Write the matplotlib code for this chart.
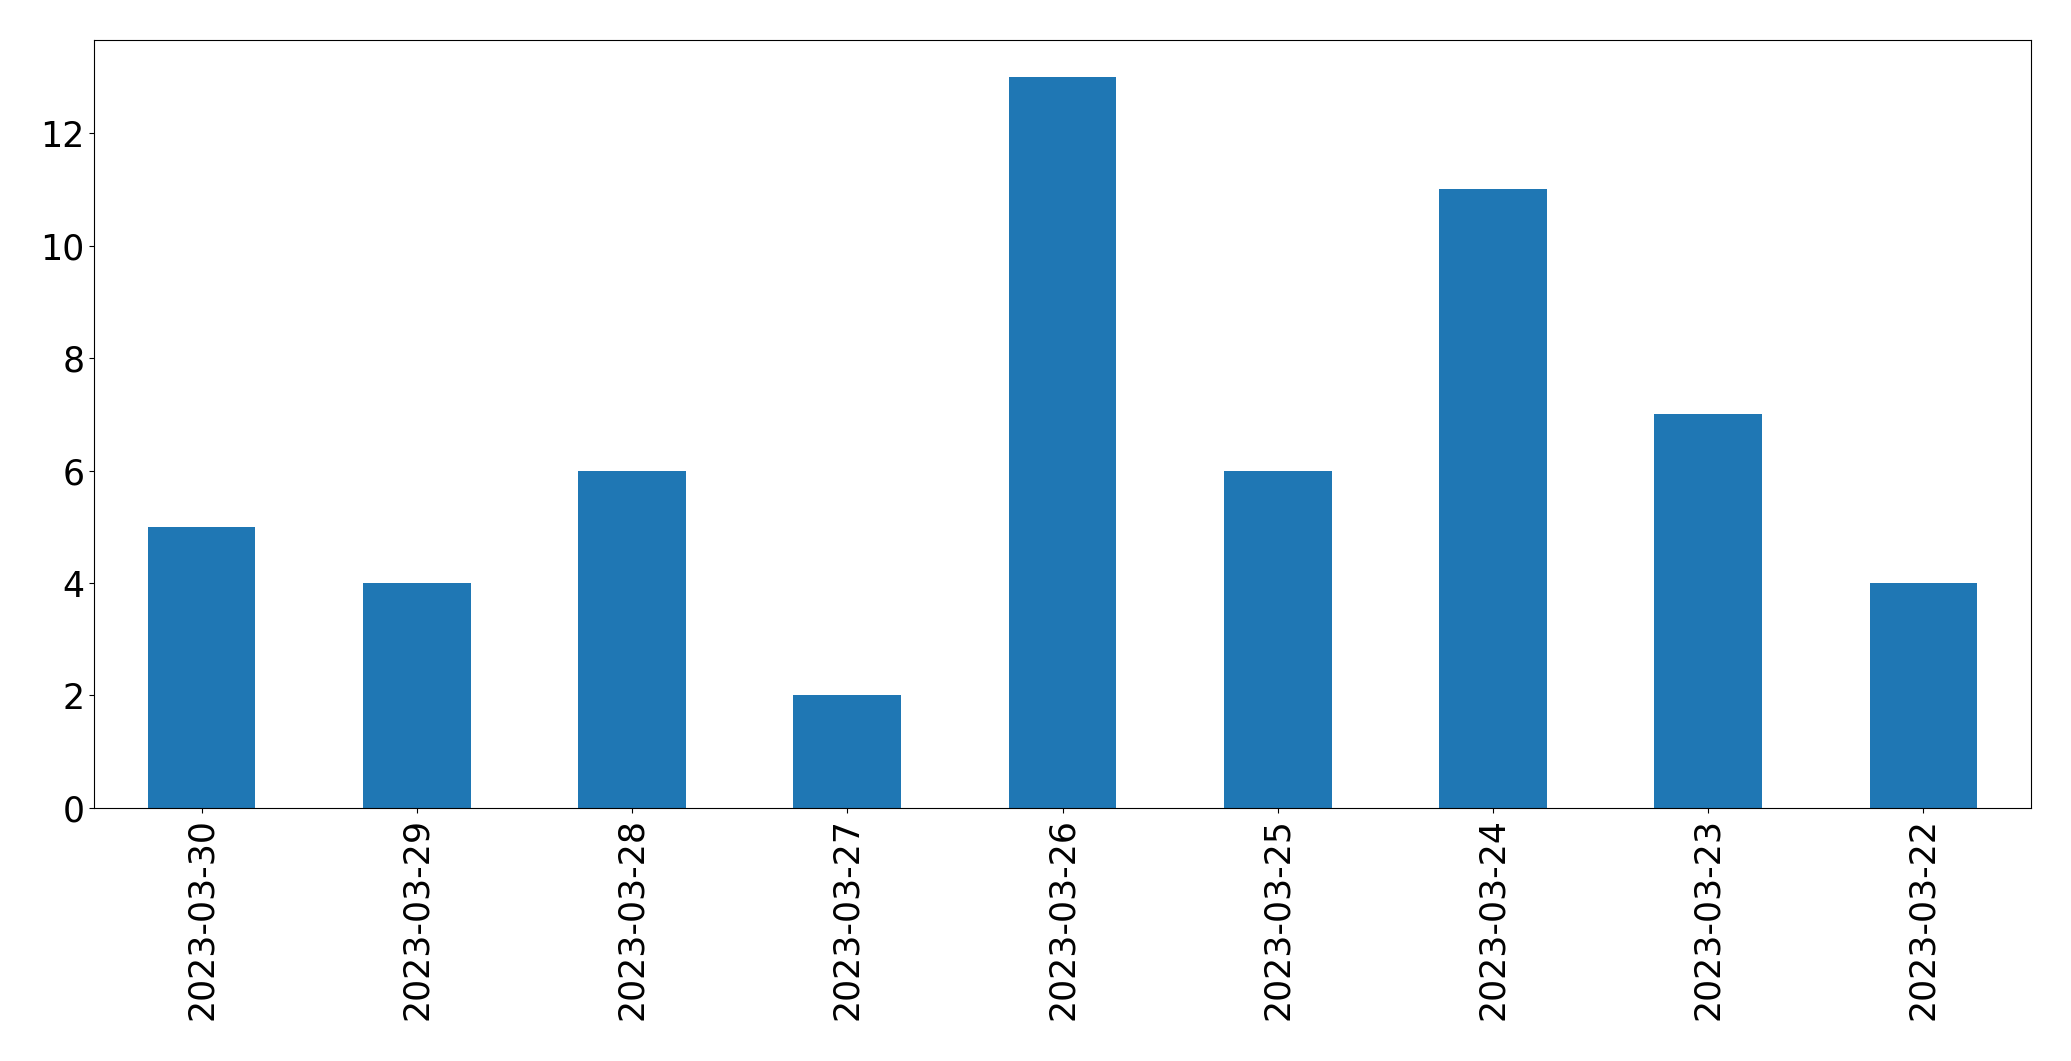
import numpy as np
import matplotlib
matplotlib.use("Agg")
import matplotlib.pyplot as plt

# jumlah per tanggal
dates = ["2023-03-30", "2023-03-29", "2023-03-28", "2023-03-27", "2023-03-26",
         "2023-03-25", "2023-03-24", "2023-03-23", "2023-03-22"]
counts = [5, 4, 6, 2, 13, 6, 11, 7, 4]

fig = plt.figure(figsize=(20.71, 10.61), dpi=100)
ax = fig.add_axes([0.0454, 0.2385, 0.9353, 0.7235])

x = np.arange(len(dates))
ax.bar(x, counts, width=0.5, color="#1f77b4")
ax.set_xlim(-0.5, len(dates) - 0.5)
ax.set_ylim(0, max(counts) * 1.05)
ax.set_xticks(x)
ax.set_xticklabels(dates, rotation=90)
ax.tick_params(labelsize=25)

fig.savefig("out.png", dpi=100)
